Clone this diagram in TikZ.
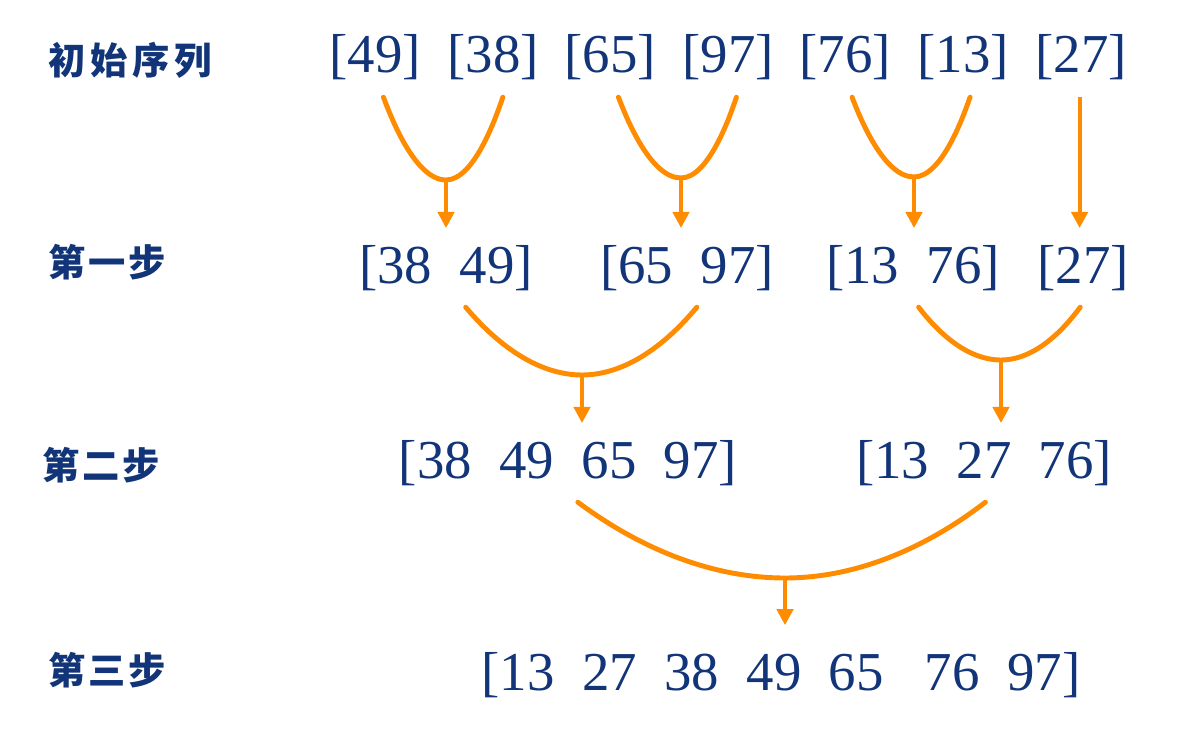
\documentclass[tikz,border=0pt]{standalone}
\usepackage{fontspec}
\setmainfont{Liberation Serif}
\newfontfamily\cjk{Noto Sans CJK SC}
\definecolor{seqblue}{RGB}{18,52,120}
\definecolor{mergeorange}{RGB}{255,140,0}
\usetikzlibrary{arrows.meta}
\newcommand{\gap}{\hspace{0.5em}}

\begin{document}
\begin{tikzpicture}[x=0.025cm, y=-0.025cm,
  seq/.style={seqblue, anchor=base, inner sep=0pt, outer sep=12pt, font=\fontsize{39}{44}\selectfont},
  lbl/.style={seqblue, anchor=west, inner sep=0pt, font=\cjk\bfseries\fontsize{26.5}{30}\selectfont},
  merge/.style={mergeorange, line width=3.5pt, line cap=round},
  down/.style={mergeorange, line width=2.9pt, -{Triangle[length=11.5pt,width=11.5pt]}}]
  \useasboundingbox (0,0) rectangle (1200,748);

  % row labels
  \node[lbl] (l0) at (48,60) {初\hspace{3.5pt}始\hspace{3.5pt}序\hspace{3.5pt}列};
  \node[lbl] (l1) at (48,262) {第\hspace{2pt}一\hspace{2pt}步};
  \node[lbl] (l2) at (42,465) {第\hspace{2pt}二\hspace{2pt}步};
  \node[lbl] (l3) at (48,670) {第\hspace{2pt}三\hspace{2pt}步};

  % initial sequence
  \foreach \v/\x in {49/375, 38/493, 65/610, 97/728, 76/845, 13/963, 27/1081}
    \node[seq] (n\v) at (\x,73) {[\v]};

  % step one
  \node[seq] (s38) at (446,283) {[38\gap 49]};
  \node[seq] (s65) at (687,283) {[65\gap 97]};
  \node[seq] (s13) at (913,283) {[13\gap 76]};
  \node[seq] (s27) at (1083,283) {[27]};

  % step two
  \node[seq] (t38) at (568,478) {[38\gap 49\gap 65\gap 97]};
  \node[seq] (t13) at (984,478) {[13\gap 27\gap 76]};

  % step three
  \node[seq] (u13) at (781,690) {[13\gap 27\gap 38\gap 49\gap 65\gap\hspace{0.25em}76\gap 97]};

  % merge points
  \coordinate (m1) at (446,180);
  \coordinate (m2) at (681,178);
  \coordinate (m3) at (914,177);
  \coordinate (m4) at (582,375);
  \coordinate (m5) at (1001,360);
  \coordinate (m6) at (785,578);

  \draw[merge] ([xshift=6pt]n49.south) parabola bend (m1) ([xshift=7pt]n38.south);
  \draw[merge] ([xshift=6pt]n65.south) parabola bend (m2) ([xshift=6pt]n97.south);
  \draw[merge] ([xshift=5pt]n76.south) parabola bend (m3) ([xshift=5pt]n13.south);
  \draw[merge] ([xshift=14pt]s38.south) parabola bend (m4) ([xshift=7pt]s65.south);
  \draw[merge] ([xshift=4pt]s13.south) parabola bend (m5) ([xshift=-2pt]s27.south);
  \draw[merge] ([xshift=7pt]t38.south) parabola bend (m6) ([xshift=1pt]t13.south);

  \draw[down] (m1) -- (m1 |- s38.north);
  \draw[down] (m2) -- (m2 |- s65.north);
  \draw[down] (m3) -- (m3 |- s13.north);
  \draw[down] ([xshift=-1pt]n27.south) -- ([xshift=-1pt]n27.south |- s27.north);
  \draw[down] (m4) -- (m4 |- t38.north);
  \draw[down] (m5) -- (m5 |- t13.north);
  \draw[down, shorten >=7pt] (m6) -- (m6 |- u13.north);
\end{tikzpicture}
\end{document}
